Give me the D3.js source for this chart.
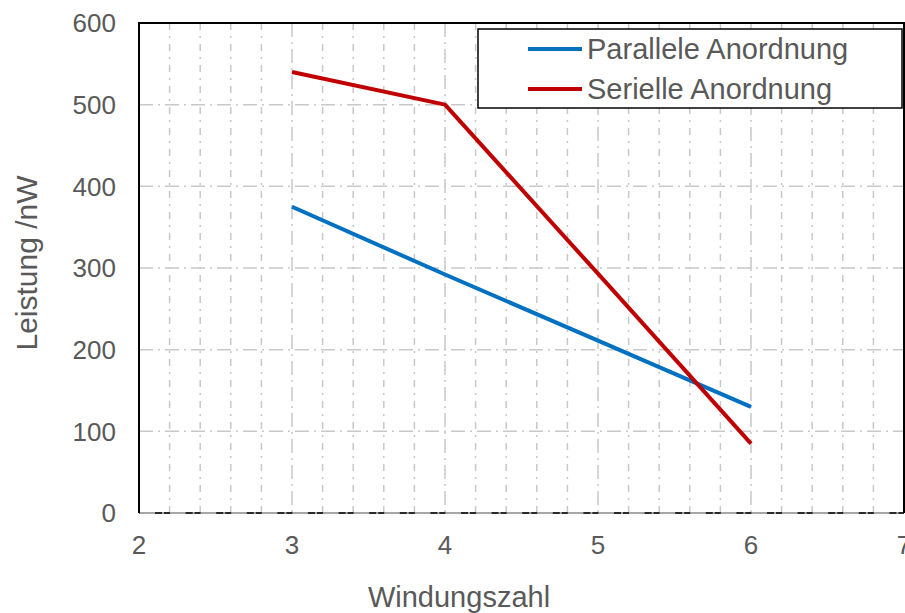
<!DOCTYPE html>
<html>
<head>
<meta charset="utf-8">
<script src="https://cdn.jsdelivr.net/npm/d3@7"></script>
<style>
  html, body { margin: 0; padding: 0; background: #fff; }
  svg { display: block; }
  text { font-family: "Liberation Sans", Arial, sans-serif; fill: #595959; }
</style>
</head>
<body>
<svg id="chart" width="905" height="613"></svg>
<script>
const windungen = [3, 4, 5, 6];
const parallel = [375, 292, 211, 130];
const seriell = [540, 500, 293, 85];
const seriesNames = ["Parallele Anordnung", "Serielle Anordnung"];
const seriesColors = ["#0070C0", "#C00000"];
const xTicks = [2, 3, 4, 5, 6, 7];
const yTicks = [0, 100, 200, 300, 400, 500, 600];
const xMinor = d3.range(2, 7.001, 0.2).map(v => +v.toFixed(1));

const svg = d3.select("#chart");
const x = d3.scaleLinear().domain([2, 7]).range([139, 904]);
const y = d3.scaleLinear().domain([0, 600]).range([513, 23]);

const grid = svg.append("g");
grid.selectAll("line.vminor")
  .data(xMinor.filter(v => Math.abs(v - Math.round(v)) > 1e-6))
  .join("line")
  .attr("x1", d => x(d)).attr("x2", d => x(d))
  .attr("y1", y(600)).attr("y2", y(0))
  .attr("stroke", "#c8c8c8").attr("stroke-width", 1.5)
  .attr("stroke-dasharray", "7,6,2,6");
grid.selectAll("line.vmajor")
  .data(xTicks.filter(v => v > 2 && v < 7))
  .join("line")
  .attr("x1", d => x(d)).attr("x2", d => x(d))
  .attr("y1", y(600)).attr("y2", y(0))
  .attr("stroke", "#c8c8c8").attr("stroke-width", 1.5)
  .attr("stroke-dasharray", "14,5,2,5");
grid.selectAll("line.h")
  .data(yTicks.filter(v => v > 0 && v < 600))
  .join("line")
  .attr("x1", x(2)).attr("x2", x(7))
  .attr("y1", d => y(d)).attr("y2", d => y(d))
  .attr("stroke", "#c8c8c8").attr("stroke-width", 1.5)
  .attr("stroke-dasharray", "14,5,2,5");

svg.append("line")
  .attr("x1", x(2)).attr("x2", x(7)).attr("y1", y(0)).attr("y2", y(0))
  .attr("stroke", "#a6a6a6").attr("stroke-width", 2);
svg.append("line")
  .attr("x1", x(2)).attr("x2", x(7)).attr("y1", y(0)).attr("y2", y(0))
  .attr("stroke", "#000").attr("stroke-width", 1.5)
  .attr("stroke-dasharray", "7,2,6,15.6").attr("stroke-dashoffset", 14.6);

svg.append("path")
  .attr("d", `M${x(2)},${y(0)}V${y(600)}H${x(7)}V${y(0)}`)
  .attr("fill", "none").attr("stroke", "#000").attr("stroke-width", 2);

const line = d3.line().x(d => x(d[0])).y(d => y(d[1]));
[parallel, seriell].forEach((vals, i) => {
  svg.append("path")
    .datum(windungen.map((w, j) => [w, vals[j]]))
    .attr("d", line)
    .attr("fill", "none")
    .attr("stroke", seriesColors[i])
    .attr("stroke-width", 4)
    .attr("stroke-linejoin", "round");
});

svg.append("g").selectAll("text")
  .data(yTicks).join("text")
  .attr("x", 116).attr("y", d => y(d)).attr("dy", "0.36em")
  .attr("text-anchor", "end").attr("font-size", 26)
  .text(d => d);

svg.append("g").selectAll("text")
  .data(xTicks).join("text")
  .attr("x", d => x(d)).attr("y", 554)
  .attr("text-anchor", "middle").attr("font-size", 26)
  .text(d => d);

svg.append("text")
  .attr("x", 459).attr("y", 607)
  .attr("text-anchor", "middle").attr("font-size", 29)
  .text("Windungszahl");
svg.append("text")
  .attr("transform", "translate(37,263) rotate(-90)")
  .attr("text-anchor", "middle").attr("font-size", 30)
  .text("Leistung /nW");

const lg = svg.append("g");
lg.append("rect")
  .attr("x", 478).attr("y", 29).attr("width", 424).attr("height", 79)
  .attr("fill", "#fff").attr("stroke", "#000").attr("stroke-width", 1.5);
seriesNames.forEach((name, i) => {
  const ly = 49 + i * 40;
  lg.append("line")
    .attr("x1", 528).attr("x2", 582).attr("y1", ly).attr("y2", ly)
    .attr("stroke", seriesColors[i]).attr("stroke-width", 4);
  lg.append("text")
    .attr("x", 587).attr("y", ly + 10)
    .attr("font-size", 29)
    .text(name);
});
</script>
</body>
</html>
